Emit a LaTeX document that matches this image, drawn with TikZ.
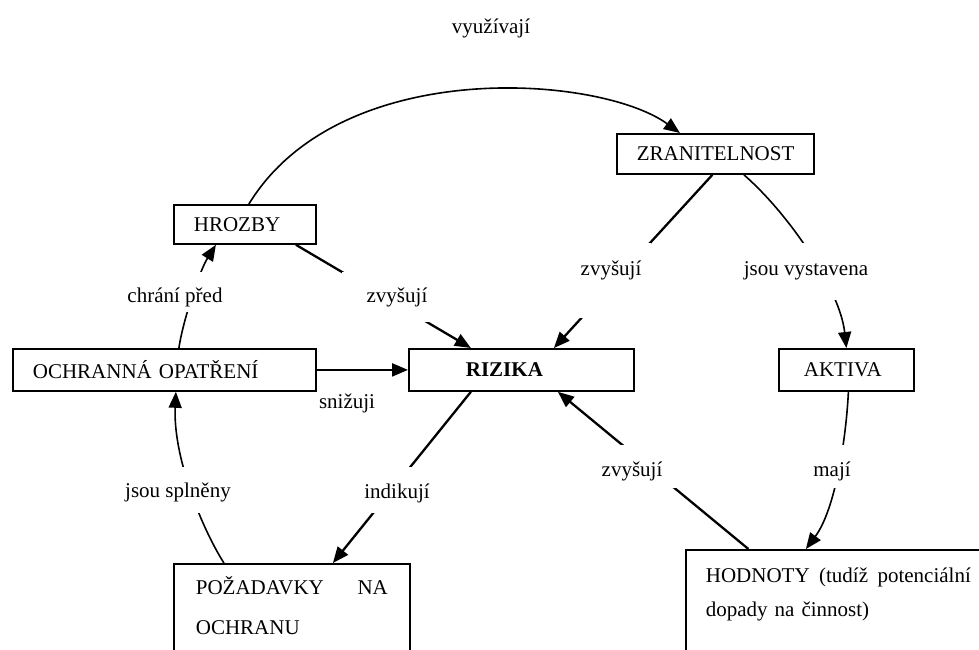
\documentclass[tikz,border=0pt]{standalone}
\usepackage{fontspec}
\setmainfont{Liberation Serif}
\usetikzlibrary{arrows.meta}
\begin{document}
\begin{tikzpicture}[x=1pt,y=-1pt,
  every node/.style={font=\fontsize{21}{25}\selectfont},
  box/.style={draw, line width=1.8pt, rectangle, anchor=north west, inner ysep=0pt, align=left},
  lbl/.style={fill=white, inner ysep=0pt, inner xsep=8pt, anchor=base},
  conn/.style={line width=2.3pt, -{Triangle[length=16pt,width=13pt]}},
  curv/.style={line width=1.6pt, -{Triangle[length=16pt,width=13pt]}},
  plain/.style={draw=none}
]
\useasboundingbox (0,0) rectangle (979,649);
\clip (0,0) rectangle (979,649);

% boxes
\node[box, text width=102pt, inner xsep=20pt, minimum height=39pt] (hrozby) at (173,204) {HROZBY};
\node[box, text width=157pt, inner xsep=20pt, minimum height=40pt] (zran) at (616,133) {ZRANITELNOST};
\node[box, text width=263pt, inner xsep=20pt, minimum height=42pt] (ochr) at (12,348) {OCHRANNÁ OPATŘENÍ};
\node[box, text width=111pt, inner xsep=57pt, minimum height=42pt, font=\fontsize{21}{25}\selectfont\bfseries] (rizika) at (408,348) {RIZIKA};
\node[box, text width=85pt, inner xsep=25pt, minimum height=42pt] (aktiva) at (778,348) {AKTIVA};
\node[box, text width=192pt, inner xsep=22pt, text height=31pt, text depth=100pt, font=\fontsize{21}{40}\selectfont] (pozad) at (173,563) {POŽADAVKY\hfill NA\\OCHRANU};
\node[box, text width=265pt, inner xsep=20pt, text height=33pt, text depth=100pt, font=\fontsize{21}{34}\selectfont] (hodn) at (685,549) {HODNOTY\hfill(tudíž\hfill potenciální\\dopady na činnost)};

% connectors
\draw[curv] ([xshift=4pt]hrozby.north) .. controls (340,55) and (600,75) .. ([xshift=-35.5pt]zran.north);
\draw[conn] ([xshift=51pt]hrozby.south) -- ([xshift=-50.5pt]rizika.north);
\draw[conn] ([xshift=-3pt]zran.south) -- ([xshift=32.5pt]rizika.north);
\draw[curv] ([xshift=28.5pt]zran.south) .. controls (790,215) and (840,290) .. (aktiva.north);
\draw[curv] ([xshift=14.5pt]ochr.north) .. controls (183,320) and (200,270) .. ([xshift=-29pt]hrozby.south);
\draw[conn] (ochr.east) -- (rizika.west);
\draw[conn] ([xshift=-50.5pt]rizika.south) -- ([xshift=41pt]pozad.north);
\draw[curv] ([xshift=-68pt]pozad.north) .. controls (200,525) and (173,455) .. ([xshift=11.5pt]ochr.south);
\draw[curv] ([xshift=2pt]aktiva.south) .. controls (846,440) and (835,510) .. ([xshift=-32.5pt]hodn.north);
\draw[conn] ([xshift=-90pt]hodn.north) -- ([xshift=36.5pt]rizika.south);

% labels
\node[lbl, inner xsep=25pt, text height=30pt, text depth=20pt] (l1) at (397,302) {zvyšují};
\node[lbl, inner xsep=6pt, text height=30pt, text depth=10pt] (l2) at (175,302) {chrání před};
\node[lbl, inner xsep=10pt, text height=32pt, text depth=43pt] (l3) at (611,275) {zvyšují};
\node[lbl, inner xsep=6pt, text height=32pt, text depth=25pt] (l4) at (806,275) {jsou vystavena};
\node[plain] (l5) at (347,403) {snižuji};
\node[lbl, text height=31pt, text depth=15pt] (l6) at (397,498) {indikují};
\node[lbl, text height=30pt, text depth=16pt] (l7) at (178,497) {jsou splněny};
\node[lbl, inner xsep=14pt, text height=31pt, text depth=12pt] (l8) at (632,476) {zvyšují};
\node[lbl, text height=31pt, text depth=12pt] (l9) at (832,476) {mají};
\node[plain] (l0) at (491,28) {využívají};
\end{tikzpicture}
\end{document}
